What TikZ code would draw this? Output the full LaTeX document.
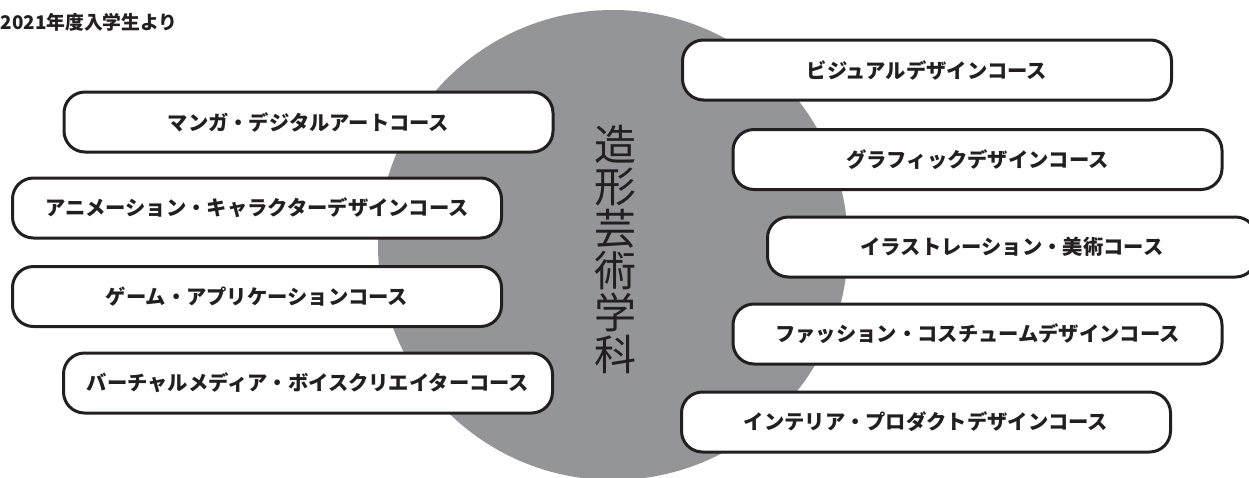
\documentclass[tikz,border=0pt]{standalone}
\usepackage{fontspec}
\newfontfamily\jp{Noto Sans CJK JP}
\definecolor{circgray}{RGB}{147,149,152}
\definecolor{ink}{RGB}{35,31,32}
\begin{document}
\begin{tikzpicture}[x=1pt,y=-1pt,
  coursebox/.style={draw=ink, line width=3pt, fill=white, rounded corners=21pt,
    minimum width=489pt, minimum height=60pt, inner sep=0pt,
    font=\jp\bfseries\fontsize{20.3}{21}\selectfont, text=ink}]
\clip (0,0) rectangle (1249,477);
\fill[white] (0,0) rectangle (1249,477);
\node[circle, fill=circgray, minimum size=470pt, inner sep=0pt] (dept) at (613,245) {};
\node[text=ink, font=\jp\fontsize{42}{42}\selectfont, align=center, inner sep=0pt] (title) at (615,249)
  {造\\形\\芸\\術\\学\\科};
\node[anchor=west, text=ink, font=\jp\bfseries\fontsize{18.8}{22}\selectfont, inner sep=0pt] (note) at (0.5,22) {2021年度入学生より};
% left column
\node[coursebox] (l1) at (308.5,122) {マンガ・デジタルアートコース};
\node[coursebox] (l2) at (257,208) {アニメーション・キャラクターデザインコース};
\node[coursebox] (l3) at (257,296.5) {ゲーム・アプリケーションコース};
\node[coursebox] (l4) at (308,383) {バーチャルメディア・ボイスクリエイターコース};
% right column
\node[coursebox] (r1) at (927,70) {ビジュアルデザインコース};
\node[coursebox] (r2) at (977.5,159.5) {グラフィックデザインコース};
\node[coursebox] (r3) at (1012,247) {イラストレーション・美術コース};
\node[coursebox] (r4) at (977.5,334) {ファッション・コスチュームデザインコース};
\node[coursebox] (r5) at (926,422) {インテリア・プロダクトデザインコース};
\end{tikzpicture}
\end{document}
